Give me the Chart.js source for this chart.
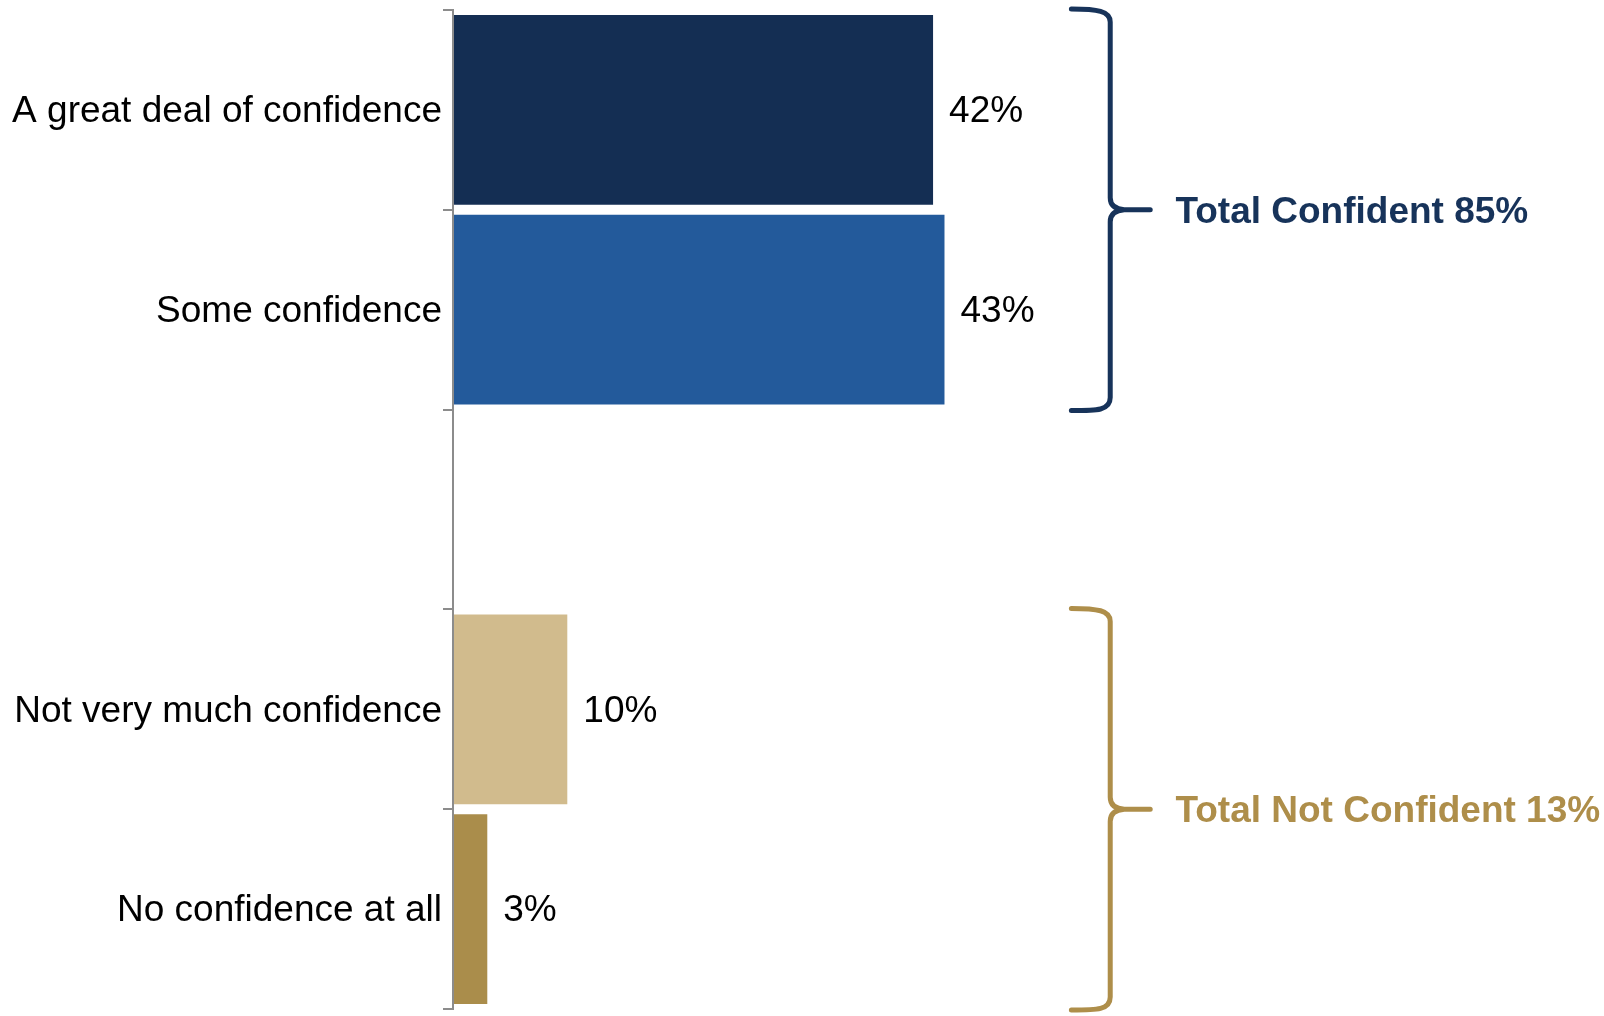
<!DOCTYPE html>
<html><head><meta charset="utf-8">
<script src="https://cdn.jsdelivr.net/npm/chart.js@4.4.1/dist/chart.umd.min.js"></script>
<style>html,body{margin:0;padding:0;background:#fff}#wrap{width:1604px;height:1016px;position:relative}</style>
</head><body><div id="wrap"><canvas id="c"></canvas></div>
<script>
const categories = ["A great deal of confidence", "Some confidence", "", "Not very much confidence", "No confidence at all"];
const values = [42, 43, null, 10, 3];
const barColors = ["#142E53", "#235A9B", "#FFFFFF", "#D1BB8D", "#AA8D4B"];
const groupLabels = ["Total Confident", "Total Not Confident"];
const groupStart = [0, 3];
const groupEnd = [1, 4];
const groupColors = ["#17335A", "#AE8E4A"];
const xRange = [0, 100];

const FONT = "'Liberation Sans', Arial, sans-serif";
const AXIS_GRAY = "#8C8C8C";

const dataLabels = {
  id: 'dataLabels',
  afterDatasetsDraw(chart) {
    const ctx = chart.ctx;
    const meta = chart.getDatasetMeta(0);
    ctx.save();
    ctx.font = "37px " + FONT;
    ctx.fillStyle = "#000";
    ctx.textAlign = "left";
    ctx.textBaseline = "middle";
    meta.data.forEach((bar, i) => {
      if (values[i] == null) return;
      ctx.fillText(values[i] + "%", bar.x + 16, bar.y + 2);
    });
    ctx.restore();
  }
};

const braces = {
  id: 'braces',
  afterDatasetsDraw(chart) {
    const ctx = chart.ctx;
    const y = chart.scales.y, x = chart.scales.x;
    const step = y.getPixelForValue(1) - y.getPixelForValue(0);
    for (let g = 0; g < groupLabels.length; g++) {
      const top = y.getPixelForValue(groupStart[g]) - step / 2;
      const bot = y.getPixelForValue(groupEnd[g]) + step / 2;
      const mid = (top + bot) / 2;
      const xl = x.getPixelForValue(54.1);
      const xv = x.getPixelForValue(57.5);
      const xt = x.getPixelForValue(61.0);
      const xtext = x.getPixelForValue(63.2);
      let sum = 0;
      for (let i = groupStart[g]; i <= groupEnd[g]; i++) sum += values[i] || 0;
      ctx.save();
      ctx.strokeStyle = groupColors[g];
      ctx.lineWidth = 5;
      ctx.lineCap = "round";
      ctx.lineJoin = "round";
      ctx.beginPath();
      ctx.moveTo(xl, top - 1);
      ctx.bezierCurveTo(xl + 26, top - 1, xv, top + 1, xv, top + 12);
      ctx.lineTo(xv, mid - 12);
      ctx.quadraticCurveTo(xv, mid - 1, xv + 14, mid);
      ctx.lineTo(xt, mid);
      ctx.moveTo(xt, mid);
      ctx.lineTo(xv + 14, mid);
      ctx.quadraticCurveTo(xv, mid + 1, xv, mid + 12);
      ctx.lineTo(xv, bot - 12);
      ctx.bezierCurveTo(xv, bot + 1, xl + 26, bot + 1, xl, bot + 1);
      ctx.stroke();
      ctx.font = "bold 37px " + FONT;
      ctx.fillStyle = groupColors[g];
      ctx.textAlign = "left";
      ctx.textBaseline = "middle";
      ctx.fillText(groupLabels[g] + " " + sum + "%", xtext, mid + 3);
      ctx.restore();
    }
  }
};

new Chart(document.getElementById('c'), {
  type: 'bar',
  data: {
    labels: categories,
    datasets: [{
      data: values,
      backgroundColor: barColors,
      borderWidth: 0,
      categoryPercentage: 1.0,
      barPercentage: 0.95
    }]
  },
  options: {
    indexAxis: 'y',
    responsive: true,
    maintainAspectRatio: false,
    animation: false,
    events: [],
    layout: { padding: { left: 0, top: 10, right: 8, bottom: 7 } },
    plugins: { legend: { display: false }, tooltip: { enabled: false } },
    scales: {
      x: { display: false, min: xRange[0], max: xRange[1] },
      y: {
        afterFit(scale) { scale.width = 453; scale.paddingTop = 0; scale.paddingBottom = 0; },
        grid: { display: true, drawOnChartArea: false, drawTicks: true, tickLength: 10, offset: true, color: AXIS_GRAY, lineWidth: 2 },
        border: { display: true, color: AXIS_GRAY, width: 2, z: 1 },
        ticks: { color: "#000", font: { family: FONT, size: 37 }, padding: 1, labelOffset: 2 }
      }
    }
  },
  plugins: [dataLabels, braces]
});
</script>
</body></html>
